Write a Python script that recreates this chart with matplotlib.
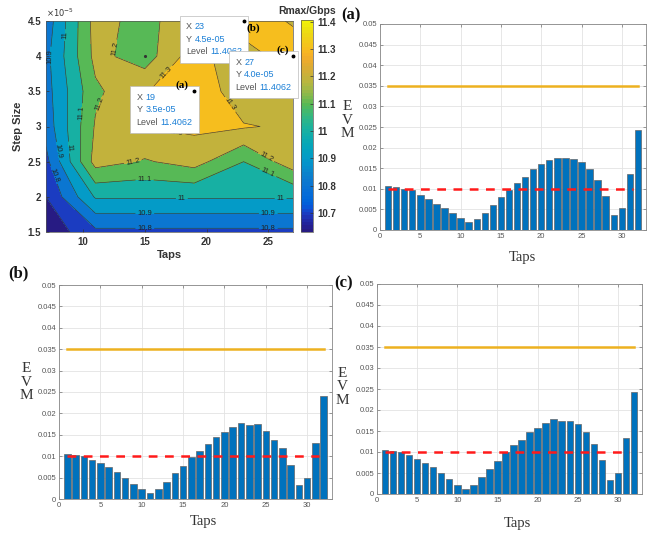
import numpy as np
import matplotlib
matplotlib.use("Agg")
import matplotlib.pyplot as plt
from matplotlib.colors import ListedColormap, Normalize, rgb_to_hsv, hsv_to_rgb
from matplotlib.offsetbox import TextArea, HPacker, VPacker, AnnotationBbox
from matplotlib.ticker import FuncFormatter, MultipleLocator

# ---------------- data ----------------
taps_grid = [7, 11, 15, 19, 23, 27]
step_sizes = [1.5e-5, 2.0e-5, 2.5e-5, 3.0e-5, 3.5e-5, 4.0e-5, 4.5e-5]
rmax_s15 = [10.63, 10.775, 10.775, 10.775, 10.775, 10.775]
rmax_s20 = [10.70, 11.01, 11.01, 11.01, 11.01, 11.01]
rmax_s25 = [10.77, 11.24, 11.19, 11.24, 11.10, 11.26]
rmax_s30 = [10.84, 11.21, 11.305, 11.32, 11.31, 11.28]
rmax_s35 = [10.86, 11.18, 11.29, 11.4062, 11.21, 11.25]
rmax_s40 = [10.87, 11.23, 11.15, 11.355, 11.205, 11.4062]
rmax_s45 = [10.84, 11.24, 11.16, 11.29, 11.4062, 11.28]
contour_levels = [10.7, 10.8, 10.9, 11.0, 11.1, 11.2, 11.3]
colorbar_ticks = [10.7, 10.8, 10.9, 11.0, 11.1, 11.2, 11.3, 11.4]

tip_x = [19, 23, 27]
tip_y = [3.5e-5, 4.5e-5, 4.0e-5]
tip_level = [11.4062, 11.4062, 11.4062]

bar_taps = list(range(1, 33))
evm_a = [0.0107, 0.0104, 0.0100, 0.0096, 0.0085, 0.0075, 0.0063, 0.0053, 0.0041, 0.0028,
         0.0020, 0.0027, 0.0042, 0.0061, 0.0079, 0.0097, 0.0113, 0.0129, 0.0148, 0.0160,
         0.0169, 0.0175, 0.0174, 0.0172, 0.0165, 0.0148, 0.0121, 0.0083, 0.0036, 0.0053,
         0.0136, 0.0242]
evm_b = [0.0104, 0.0102, 0.0100, 0.0092, 0.0083, 0.0074, 0.0064, 0.0050, 0.0035, 0.0023,
         0.0014, 0.0024, 0.0040, 0.0060, 0.0076, 0.0097, 0.0113, 0.0129, 0.0146, 0.0157,
         0.0168, 0.0177, 0.0172, 0.0176, 0.0160, 0.0139, 0.0118, 0.0079, 0.0033, 0.0050,
         0.0130, 0.0241]
evm_c = [0.0105, 0.0102, 0.0099, 0.0093, 0.0083, 0.0075, 0.0064, 0.0050, 0.0036, 0.0021,
         0.0013, 0.0022, 0.0040, 0.0059, 0.0079, 0.0099, 0.0116, 0.0129, 0.0148, 0.0158,
         0.0170, 0.0178, 0.0174, 0.0174, 0.0166, 0.0147, 0.0119, 0.0081, 0.0034, 0.0050,
         0.0133, 0.0244]
evm_limit_upper = 0.035
evm_limit_lower = 0.01
limit_x_upper = [1, 32]
limit_x_lower = [1, 31.4]

# ---------------- parula (slightly saturated like the reference) ----------------
parula_data = [[0.2081, 0.1663, 0.5292], [0.2116, 0.1898, 0.5777], [0.2123, 0.2138, 0.6270],
    [0.2081, 0.2386, 0.6771], [0.1959, 0.2645, 0.7279], [0.1707, 0.2919, 0.7792],
    [0.1253, 0.3242, 0.8303], [0.0591, 0.3598, 0.8683], [0.0117, 0.3875, 0.8820],
    [0.0060, 0.4086, 0.8828], [0.0165, 0.4266, 0.8786], [0.0329, 0.4430, 0.8720],
    [0.0498, 0.4586, 0.8641], [0.0629, 0.4737, 0.8554], [0.0723, 0.4887, 0.8467],
    [0.0779, 0.5040, 0.8384], [0.0793, 0.5200, 0.8312], [0.0749, 0.5375, 0.8263],
    [0.0641, 0.5570, 0.8240], [0.0488, 0.5772, 0.8228], [0.0343, 0.5966, 0.8199],
    [0.0265, 0.6137, 0.8135], [0.0239, 0.6287, 0.8038], [0.0231, 0.6418, 0.7913],
    [0.0228, 0.6535, 0.7768], [0.0267, 0.6642, 0.7607], [0.0384, 0.6743, 0.7436],
    [0.0590, 0.6838, 0.7254], [0.0843, 0.6928, 0.7062], [0.1133, 0.7015, 0.6859],
    [0.1453, 0.7098, 0.6646], [0.1801, 0.7177, 0.6424], [0.2178, 0.7250, 0.6193],
    [0.2586, 0.7317, 0.5954], [0.3022, 0.7376, 0.5712], [0.3482, 0.7424, 0.5473],
    [0.3953, 0.7459, 0.5244], [0.4420, 0.7481, 0.5033], [0.4871, 0.7491, 0.4840],
    [0.5300, 0.7491, 0.4661], [0.5709, 0.7485, 0.4494], [0.6099, 0.7473, 0.4337],
    [0.6473, 0.7456, 0.4188], [0.6834, 0.7435, 0.4044], [0.7184, 0.7411, 0.3905],
    [0.7525, 0.7384, 0.3768], [0.7858, 0.7356, 0.3633], [0.8185, 0.7327, 0.3498],
    [0.8507, 0.7299, 0.3360], [0.8824, 0.7274, 0.3217], [0.9139, 0.7258, 0.3063],
    [0.9450, 0.7261, 0.2886], [0.9739, 0.7314, 0.2666], [0.9938, 0.7455, 0.2403],
    [0.9990, 0.7653, 0.2164], [0.9955, 0.7861, 0.1967], [0.9880, 0.8066, 0.1794],
    [0.9789, 0.8271, 0.1633], [0.9697, 0.8481, 0.1475], [0.9626, 0.8705, 0.1309],
    [0.9589, 0.8949, 0.1132], [0.9598, 0.9218, 0.0948], [0.9661, 0.9514, 0.0755],
    [0.9763, 0.9831, 0.0538]]
hsv = rgb_to_hsv(np.array(parula_data))
hsv[:, 1] = hsv[:, 1] ** 0.6
hsv[:, 2] = hsv[:, 2] * 0.97
parula = ListedColormap(hsv_to_rgb(hsv), name="parula_sat")

plt.rcParams["font.family"] = ["Liberation Sans", "DejaVu Sans"]
fig = plt.figure(figsize=(6.68, 5.35), dpi=100)
W, H = 668.0, 535.0

def px_axes(x0, y0, x1, y1):
    return fig.add_axes([x0 / W, 1 - y1 / H, (x1 - x0) / W, (y1 - y0) / H])

# ---------------- contour ----------------
Z = np.array([rmax_s15, rmax_s20, rmax_s25, rmax_s30, rmax_s35, rmax_s40, rmax_s45])
X, Y = np.meshgrid(taps_grid, step_sizes)
zmin, zmax = Z.min(), Z.max()
norm = Normalize(vmin=zmin, vmax=zmax)
fill_levels = [zmin] + contour_levels + [zmax + 1e-6]
fill_colors = [parula(norm(v)) for v in fill_levels[:-1]]

ax0 = px_axes(46, 21, 293, 232)
ax0.contourf(X, Y, Z, levels=fill_levels, colors=fill_colors)
cs = ax0.contour(X, Y, Z, levels=contour_levels, colors="#3a3a3a", linewidths=0.45)
label_spots = [(15, 1.56e-5), (25, 1.56e-5), (7.5, 2.3e-5),
               (15, 1.76e-5), (25, 1.76e-5), (8.0, 2.65e-5), (7.3, 4.0e-5),
               (18, 1.98e-5), (26, 1.98e-5), (8.8, 2.7e-5), (8.5, 4.3e-5),
               (15, 2.22e-5), (25, 2.35e-5), (10.0, 3.2e-5),
               (14, 2.55e-5), (25, 2.62e-5), (11.6, 3.3e-5), (12.9, 4.1e-5),
               (17.5, 2.86e-5), (16.8, 3.76e-5), (21.8, 3.3e-5)]
ax0.clabel(cs, fmt="%g", fontsize=5.5, inline=True, inline_spacing=2, colors="#222222",
           manual=label_spots)
ax0.plot(15, 4.0e-5, marker=".", color="#333333", ms=2.5)
ax0.set_xlim(7, 27)
ax0.set_ylim(1.5e-5, 4.5e-5)
ax0.set_xticks([10, 15, 20, 25])
ax0.set_yticks(step_sizes)
ax0.yaxis.set_major_formatter(FuncFormatter(lambda v, p: f"{v * 1e5:g}"))
ax0.tick_params(direction="in", length=2, labelsize=7, colors="#333333", width=0.5)
for lab in ax0.get_xticklabels() + ax0.get_yticklabels():
    lab.set_fontweight("bold")
for s in ax0.spines.values():
    s.set_linewidth(0.5)
    s.set_color("#555555")
ax0.set_xlabel("Taps", fontsize=8, fontweight="bold", color="#333333", labelpad=2)
ax0.set_ylabel("Step Size", fontsize=8, fontweight="bold", color="#333333", labelpad=3)
ax0.text(0.0, 1.01, r"$\times10^{-5}$", transform=ax0.transAxes, fontsize=6,
         color="#333333", ha="left", va="bottom")

for tx, ty, tl in zip(tip_x, tip_y, tip_level):
    ax0.plot(tx, ty, marker="o", color="black", ms=1.8, clip_on=False, zorder=6)
    grey = dict(color="#555555", fontsize=6.5)
    blue = dict(color="#1a7fd6", fontsize=6.5)
    rows = [HPacker(children=[TextArea("X", textprops=grey), TextArea(f"{tx}", textprops=blue)],
                    sep=2, pad=0),
            HPacker(children=[TextArea("Y", textprops=grey), TextArea(f"{ty:.1e}", textprops=blue)],
                    sep=2, pad=0),
            HPacker(children=[TextArea("Level", textprops=grey), TextArea(f"{tl:.4f}", textprops=blue)],
                    sep=2, pad=0)]
    vp = VPacker(children=rows, align="left", sep=2.5, pad=0)
    ab = AnnotationBbox(vp, (tx, ty), xybox=(-1, -1), xycoords="data", boxcoords="offset points",
                        box_alignment=(1, 1), pad=0.45, frameon=True,
                        bboxprops=dict(facecolor="white", edgecolor="#bbbbbb", linewidth=0.5),
                        annotation_clip=False, zorder=5)
    ax0.add_artist(ab)

ax0.annotate("(a)", (19, 3.5e-5), xytext=(-4, 1), textcoords="offset points", ha="right",
             va="bottom", fontsize=8, fontweight="bold", family="Liberation Serif", zorder=7)
ax0.annotate("(b)", (23, 4.5e-5), xytext=(2, -2), textcoords="offset points", ha="left",
             va="top", fontsize=8, fontweight="bold", family="Liberation Serif", zorder=7)
ax0.annotate("(c)", (27, 4.0e-5), xytext=(-3, 1), textcoords="offset points", ha="right",
             va="bottom", fontsize=8, fontweight="bold", family="Liberation Serif", zorder=7)

cax = px_axes(301, 20, 313, 232)
sm = plt.cm.ScalarMappable(norm=norm, cmap=parula)
cb = fig.colorbar(sm, cax=cax, ticks=colorbar_ticks, format=FuncFormatter(lambda v, p: f"{v:g}"))
cb.outline.set_linewidth(0.5)
cb.outline.set_edgecolor("#555555")
cax.tick_params(direction="in", length=2, labelsize=7, colors="#333333", width=0.5, pad=3)
for lab in cax.get_yticklabels():
    lab.set_fontweight("bold")
cax.text(0.5, 1.02, "Rmax/Gbps", transform=cax.transAxes, ha="center", va="bottom",
         fontsize=7.5, fontweight="bold", color="#333333")

# ---------------- bar panels ----------------
def bar_panel(rect, vals, label, label_xy, evm_xy, taps_xy):
    ax = px_axes(*rect)
    ax.bar(bar_taps, vals, width=0.8, color="#0072bd", edgecolor="#666666", linewidth=0.5, zorder=3)
    ax.plot(limit_x_upper, [evm_limit_upper] * 2, color="#edb120", lw=1.8, zorder=4)
    ax.plot(limit_x_lower, [evm_limit_lower] * 2, color="#ff1a1a", lw=1.8, ls=(0, (3.5, 3)), zorder=4)
    ax.set_xlim(0, 33)
    ax.set_ylim(0, 0.05)
    ax.xaxis.set_major_locator(MultipleLocator(5))
    ax.yaxis.set_major_locator(MultipleLocator(0.005))
    ax.yaxis.set_major_formatter(FuncFormatter(lambda v, p: f"{v:g}" if v != 0 else "0"))
    ax.grid(True, color="#e3e3e3", linewidth=0.6, zorder=0)
    ax.tick_params(direction="in", length=2, labelsize=5.5, colors="#555555", width=0.4,
                   top=True, right=True, pad=2)
    for s in ax.spines.values():
        s.set_linewidth(0.6)
        s.set_color("#888888")
    fig.text(taps_xy[0] / W, 1 - taps_xy[1] / H, "Taps", ha="center", va="center",
             fontsize=10.5, family="Liberation Serif", color="#333333")
    fig.text(evm_xy[0] / W, 1 - evm_xy[1] / H, "E\nV\nM", ha="center", va="center",
             fontsize=11, family="Liberation Serif", color="#333333", linespacing=1.05)
    fig.text(label_xy[0] / W, 1 - label_xy[1] / H, label, ha="left", va="center",
             fontsize=12, fontweight="bold", family="Liberation Serif", color="#111111")
    return ax

bar_panel((380, 24, 646, 230), evm_a, "(a)", (341, 15), (347, 120), (522, 257))
bar_panel((59, 285, 332, 499), evm_b, "(b)", (8, 273), (26, 382), (203, 522))
bar_panel((377, 284, 642, 494), evm_c, "(c)", (334, 283), (342, 387), (517, 523))

fig.savefig("out.png", dpi=100, facecolor="white")
